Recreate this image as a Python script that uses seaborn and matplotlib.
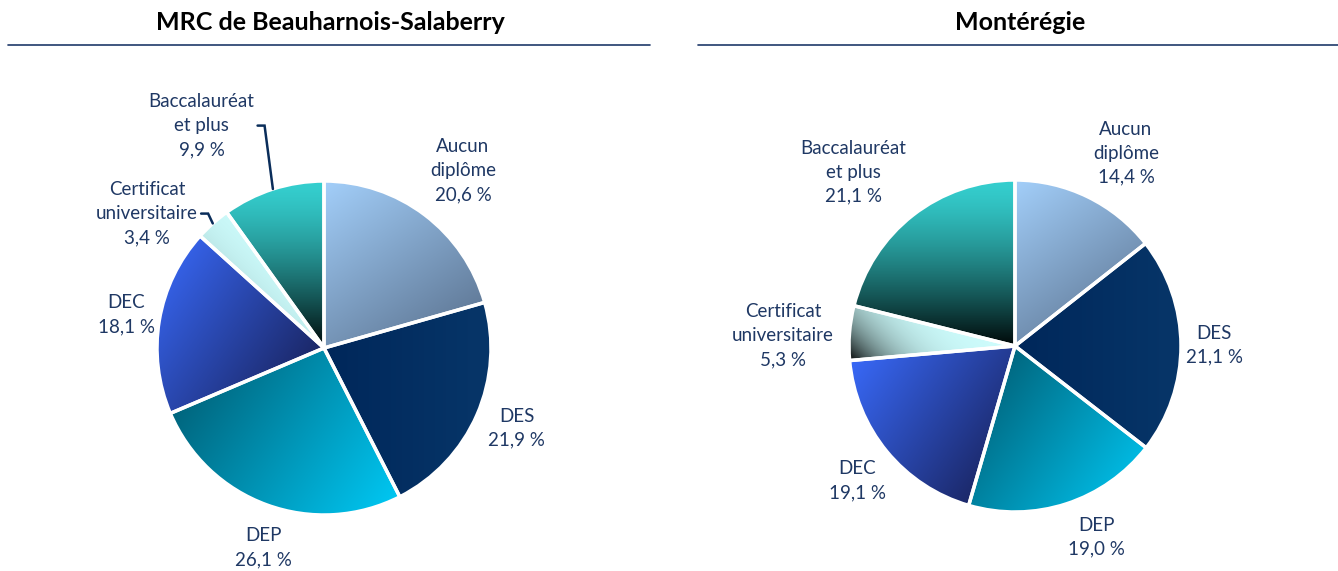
import numpy as np
import matplotlib
matplotlib.use("Agg")
import matplotlib.pyplot as plt
import seaborn as sns
from matplotlib.colors import to_rgb

sns.set_theme(style="white")
plt.rcParams['font.family'] = ['Lato', 'DejaVu Sans']

# data
categories = ["Aucun\ndiplôme", "DES", "DEP", "DEC", "Certificat\nuniversitaire", "Baccalauréat\net plus"]
mrc_values = [20.6, 21.9, 26.1, 18.1, 3.4, 9.9]
monteregie_values = [14.4, 21.1, 19.0, 19.1, 5.3, 21.1]
titles = ["MRC de Beauharnois-Salaberry", "Montérégie"]

# gradient fill per category: start colour, end colour, direction (deg), gamma
grads = [("#a3cffa", "#566c88", -55, 1.0),
         ("#00275a", "#073669", 0, 1.0),
         ("#00556a", "#00cbf7", -35, 1.0),
         ("#3a6cff", "#151a4a", -35, 1.0),
         ("#cdfcfc", "#000000", -135, 4.5),
         ("#35cfcf", "#000808", -90, 1.4)]

W, H = 1338, 571
label_col = "#1f3864"

fig = plt.figure(figsize=(W / 100, H / 100), dpi=100)
ax = fig.add_axes([0, 0, 1, 1])

# layout (pixels, y measured from top)
pies = [dict(vals=mrc_values, cx=324, cy=348, r=167, title_x=330, line=(8, 650),
             ldist=[1.35, 1.25, 1.25, 1.2, 1.33, 1.52], lshift=[-1, 1, 3, 0, 11, 11],
             leader=[False, False, False, False, True, True]),
        dict(vals=monteregie_values, cx=1015, cy=346, r=166, title_x=1020, line=(698, 1338),
             ldist=[1.34, 1.2, 1.25, 1.25, 1.4, 1.43], lshift=[-4, 0, 5, 1, 2, 5],
             leader=[False] * 6)]


def grad_image(wedge, c1, c2, ang, gamma):
    ext = wedge.get_path().get_extents()
    n = 200
    xs = np.linspace(0, 1, n)
    X, Y = np.meshgrid(xs, xs)
    d = np.array([np.cos(np.radians(ang)), np.sin(np.radians(ang))])
    w, h = ext.width, ext.height
    P = X * w * d[0] + Y * h * d[1]
    corners = [0, w * d[0], h * d[1], w * d[0] + h * d[1]]
    t = (P - min(corners)) / (max(corners) - min(corners))
    t = np.clip(t, 0, 1) ** gamma
    a, b = np.array(to_rgb(c1)), np.array(to_rgb(c2))
    img = a[None, None, :] * (1 - t[..., None]) + b[None, None, :] * t[..., None]
    im = ax.imshow(img, extent=[ext.x0, ext.x1, ext.y0, ext.y1], origin="lower",
                   interpolation="bilinear", zorder=1)
    im.set_clip_path(wedge)


texts = []
for p in pies:
    cy = H - p["cy"]
    wedges, _ = ax.pie(p["vals"], center=(p["cx"], cy), radius=p["r"], startangle=90,
                       counterclock=False, frame=True,
                       wedgeprops=dict(edgecolor="white", linewidth=2.5, facecolor="none"))
    for i, wd in enumerate(wedges):
        wd.set_zorder(2)
        grad_image(wd, *grads[i])
        mid = np.radians((wd.theta1 + wd.theta2) / 2)
        la = mid + np.radians(p["lshift"][i])
        lx = p["cx"] + p["r"] * p["ldist"][i] * np.cos(la)
        ly = cy + p["r"] * p["ldist"][i] * np.sin(la)
        pct = f"{p['vals'][i]:.1f}".replace(".", ",") + " %"
        t = ax.text(lx, ly, categories[i] + "\n" + pct, ha="center", va="center",
                    fontsize=13.5, color=label_col, zorder=4, linespacing=1.5)
        if p["leader"][i]:
            texts.append((t, p["cx"] + p["r"] * np.cos(mid), cy + p["r"] * np.sin(mid), ly))
    ax.text(p["title_x"], H - 22, titles[pies.index(p)], ha="center", va="center",
            fontsize=18, fontweight="bold", color="black")
    ax.plot(list(p["line"]), [H - 45, H - 45], color="#1f3a6a", lw=1.2)

ax.set_xlim(0, W)
ax.set_ylim(0, H)
ax.axis("off")

# leader lines
fig.canvas.draw()
for t, ex, ey, ly in texts:
    bb = t.get_window_extent()
    right = ax.transData.inverted().transform((bb.x1, bb.y1))[0]
    ax.plot([right + 3, right + 10, ex], [ly, ly, ey], color="#0a2d5a", lw=1.8,
            solid_joinstyle="miter", zorder=3)

fig.savefig("out.png", dpi=100, facecolor="white")
